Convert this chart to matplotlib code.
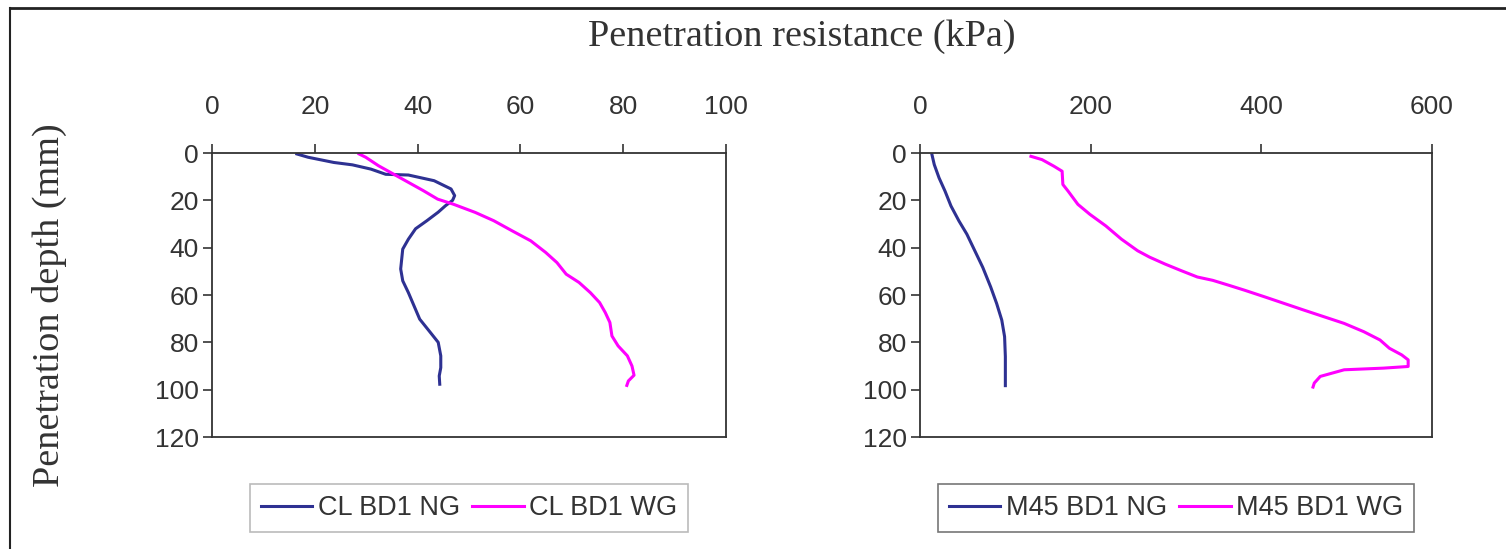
import matplotlib.pyplot as plt
from matplotlib.lines import Line2D

# left panel: CL BD1 (kPa vs mm)
cl_ng_kpa = [16.5, 18.7, 23.7, 27.3, 30.9, 33.8, 38.2, 43.2, 46.5, 47.2, 46.8, 45.4, 44.0,
             41.8, 39.6, 38.2, 37.1, 36.9, 36.7, 37.1, 38.2, 39.3, 40.4, 42.5, 44.0, 44.5,
             44.5, 44.2, 44.3]
cl_ng_mm = [0.4, 1.8, 4.0, 5.0, 6.8, 9.0, 9.3, 11.7, 15.2, 18.0, 20.0, 22.3, 25.0,
            28.6, 32.0, 36.4, 40.6, 44.8, 49.0, 54.0, 59.0, 64.6, 70.2, 75.9, 80.0, 85.7,
            90.7, 94.2, 97.7]
cl_wg_kpa = [28.6, 29.9, 32.4, 35.3, 38.2, 41.1, 43.9, 46.9, 51.2, 54.8, 58.4, 62.0, 64.9,
             67.1, 68.9, 71.4, 73.6, 75.4, 76.5, 77.4, 77.8, 79.0, 80.8, 81.7, 82.1, 81.0, 80.7]
cl_wg_mm = [0.4, 1.8, 5.4, 8.9, 12.4, 15.9, 19.5, 21.6, 25.1, 28.6, 32.9, 37.1, 42.0,
            46.3, 51.2, 54.7, 59.0, 63.2, 67.4, 71.6, 77.3, 81.5, 85.7, 90.0, 93.9, 96.3, 98.2]

# right panel: M45 BD1
m45_ng_kpa = [14, 16.7, 22.3, 29.3, 36.3, 45.6, 54.9, 64.2, 73.5, 82.8, 89.8, 95.8, 99.1, 100, 100]
m45_ng_mm = [0.7, 4.9, 10.5, 16.1, 22.4, 28.7, 34.3, 41.3, 48.3, 56.6, 63.6, 70.6, 77.6, 86.0, 98.3]
m45_wg_kpa = [130, 143, 157, 166.5, 167.4, 173.5, 185, 199, 217.7, 236, 255, 269, 287, 306,
              325, 343, 362, 380.5, 404, 427, 450, 473.5, 497, 520, 539, 550, 564.4, 572,
              572, 543, 497, 469, 462, 460.5]
m45_wg_mm = [1.4, 2.8, 5.6, 7.7, 13.3, 16.1, 21.7, 25.9, 30.8, 36.4, 41.3, 44.0, 46.9, 49.7,
             52.4, 53.8, 55.9, 58.0, 60.8, 63.6, 66.4, 69.2, 72.0, 75.5, 79.0, 82.5, 85.3, 87.4,
             90.2, 90.9, 91.6, 94.4, 97.2, 98.9]

left_xticks = [0, 20, 40, 60, 80, 100]
right_xticks = [0, 200, 400, 600]
yticks = [0, 20, 40, 60, 80, 100, 120]

ng_color = "#2E3192"
wg_color = "#FF00FF"
sans = "Liberation Sans"
serif = "Liberation Serif"

fig = plt.figure(figsize=(15.06, 5.49), dpi=100)
ax1 = fig.add_axes([0.1408, 0.204, 0.3413, 0.5173])
ax2 = fig.add_axes([0.6109, 0.204, 0.3400, 0.5173])


def style_ax(ax, xmax, xticks):
    ax.set_xlim(0, xmax)
    ax.set_ylim(120, 0)
    ax.set_xticks(xticks)
    ax.set_yticks(yticks)
    ax.xaxis.tick_top()
    ax.patch.set_alpha(0)
    for s in ax.spines.values():
        s.set_color("#333333")
        s.set_linewidth(1.3)
    ax.tick_params(axis="x", direction="out", length=6.5, width=1.2, pad=18,
                   labelsize=19, labelcolor="#333333", color="#333333")
    ax.tick_params(axis="y", direction="out", length=6.5, width=1.2, pad=3,
                   labelsize=19, labelcolor="#333333", color="#333333")
    for lab in ax.get_xticklabels() + ax.get_yticklabels():
        lab.set_family(sans)


ax1.plot(cl_ng_kpa, cl_ng_mm, color=ng_color, lw=2.2, label="CL BD1 NG")
ax1.plot(cl_wg_kpa, cl_wg_mm, color=wg_color, lw=2.2, label="CL BD1 WG")
style_ax(ax1, 100, left_xticks)

ax2.plot(m45_ng_kpa, m45_ng_mm, color=ng_color, lw=2.2, label="M45 BD1 NG")
ax2.plot(m45_wg_kpa, m45_wg_mm, color=wg_color, lw=2.2, label="M45 BD1 WG")
style_ax(ax2, 600, right_xticks)

for ax, edge in [(ax1, "#aaaaaa"), (ax2, "#555555")]:
    leg = ax.legend(loc="center", bbox_to_anchor=(0.5, -0.25), ncol=2,
                    prop={"family": sans, "size": 19.5}, frameon=True, fancybox=False,
                    handlelength=1.9, handletextpad=0.2, columnspacing=0.45,
                    borderpad=0.4, borderaxespad=0)
    leg.get_frame().set_edgecolor(edge)
    leg.get_frame().set_linewidth(1.2)
    for t in leg.get_texts():
        t.set_color("#333333")

fig.text(0.5325, 0.934, "Penetration resistance (kPa)", ha="center", va="center",
         family=serif, fontsize=27.5, color="#333333")
fig.text(0.033, 0.444, "Penetration depth (mm)", ha="center", va="center",
         rotation=90, family=serif, fontsize=27.5, color="#333333")

# outer frame (top and left edges visible)
fig.add_artist(Line2D([10 / 1506, 1.0], [1 - 8 / 549, 1 - 8 / 549],
                      transform=fig.transFigure, color="#222222", lw=2))
fig.add_artist(Line2D([10 / 1506, 10 / 1506], [0.0, 1 - 8 / 549],
                      transform=fig.transFigure, color="#222222", lw=1.5))

fig.savefig("out.png", dpi=100)
